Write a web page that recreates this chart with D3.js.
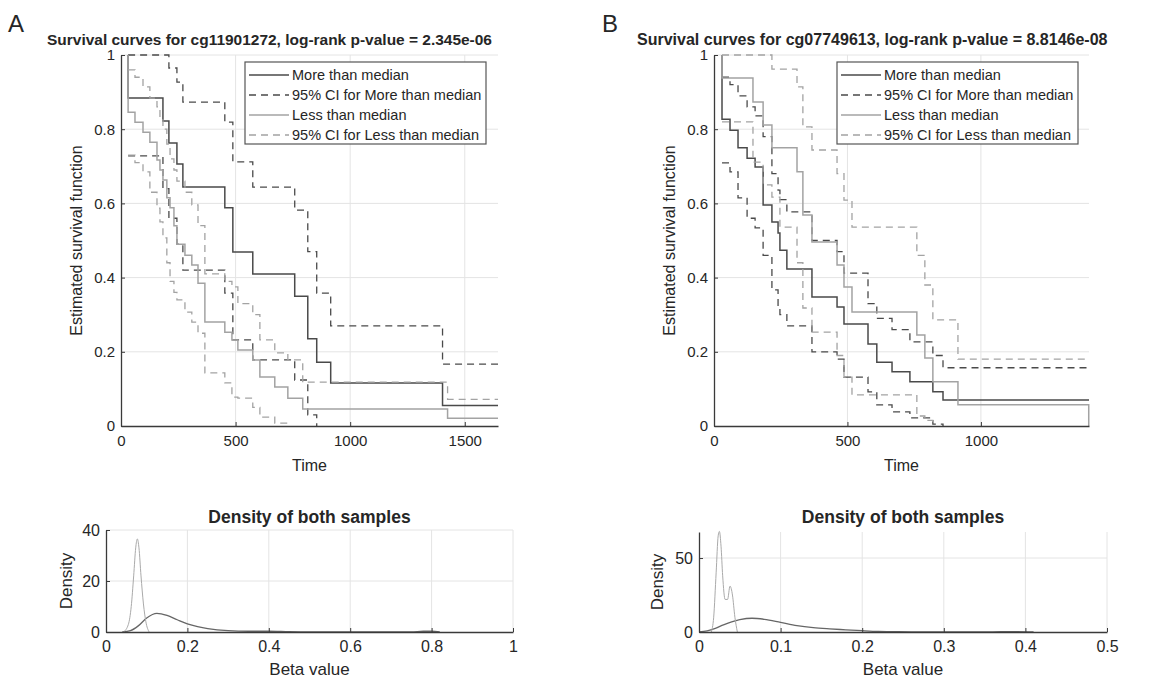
<!DOCTYPE html>
<html>
<head>
<meta charset="utf-8">
<script src="https://cdn.jsdelivr.net/npm/d3@7"></script>
<style>
  body { margin: 0; background: #fff; }
  text { font-family: "Liberation Sans", Arial, sans-serif; fill: #262626; }
</style>
</head>
<body>
<script>
// ---- panel A survival (time, survival) ----
const aMoreT = [31, 31, 183, 209, 244, 270, 453, 488, 575, 758, 815, 854, 915, 1403];
const aMoreS = [1, 0.884, 0.822, 0.763, 0.706, 0.644, 0.588, 0.469, 0.41, 0.35, 0.235, 0.172, 0.116, 0.055];
const aMoreHiT = [31, 209, 244, 270, 453, 488, 575, 758, 815, 854, 915, 1403];
const aMoreHiS = [1, 0.965, 0.927, 0.873, 0.819, 0.712, 0.644, 0.582, 0.47, 0.358, 0.27, 0.167];
const aMoreLoT = [31, 183, 209, 244, 270, 453, 488, 575, 758, 815, 854];
const aMoreLoS = [0.728, 0.64, 0.56, 0.49, 0.42, 0.358, 0.232, 0.178, 0.124, 0.03, 0];
const aLessT = [31, 31, 61, 96, 126, 157, 170, 183, 200, 214, 231, 244, 279, 309, 336, 366, 453, 484, 510, 575, 606, 671, 728, 793, 1425];
const aLessS = [1, 0.846, 0.819, 0.792, 0.765, 0.717, 0.69, 0.663, 0.615, 0.588, 0.54, 0.49, 0.46, 0.434, 0.385, 0.28, 0.253, 0.232, 0.205, 0.178, 0.132, 0.105, 0.075, 0.046, 0.021];
const aLessHiT = [31, 61, 96, 126, 157, 170, 183, 200, 214, 231, 244, 279, 309, 336, 366, 453, 484, 510, 575, 606, 671, 728, 793, 1425];
const aLessHiS = [0.96, 0.94, 0.914, 0.884, 0.86, 0.83, 0.8, 0.76, 0.72, 0.69, 0.66, 0.63, 0.596, 0.54, 0.41, 0.39, 0.375, 0.33, 0.3, 0.232, 0.197, 0.178, 0.118, 0.072];
const aLessLoT = [31, 61, 96, 126, 157, 170, 183, 200, 214, 231, 244, 279, 309, 336, 366, 453, 484, 510, 575, 606, 671, 728];
const aLessLoS = [0.73, 0.71, 0.685, 0.63, 0.587, 0.55, 0.507, 0.44, 0.39, 0.36, 0.34, 0.307, 0.28, 0.25, 0.143, 0.116, 0.078, 0.075, 0.05, 0.024, 0.008, 0];

// ---- panel B survival ----
const bMoreT = [30, 30, 60, 90, 124, 154, 184, 217, 240, 247, 273, 367, 461, 487, 577, 610, 667, 734, 820, 858];
const bMoreS = [1, 0.827, 0.797, 0.75, 0.722, 0.698, 0.596, 0.55, 0.52, 0.474, 0.423, 0.348, 0.321, 0.275, 0.221, 0.172, 0.146, 0.119, 0.092, 0.07];
const bMoreHiT = [30, 60, 90, 124, 154, 184, 217, 240, 247, 273, 367, 461, 487, 577, 610, 667, 734, 820, 858];
const bMoreHiS = [0.94, 0.92, 0.89, 0.86, 0.836, 0.78, 0.68, 0.636, 0.61, 0.577, 0.5, 0.47, 0.412, 0.33, 0.29, 0.26, 0.227, 0.19, 0.157];
const bMoreLoT = [30, 60, 90, 124, 154, 184, 217, 240, 247, 273, 367, 461, 487, 577, 610, 667, 734, 820, 858];
const bMoreLoS = [0.709, 0.685, 0.615, 0.56, 0.534, 0.46, 0.367, 0.32, 0.3, 0.27, 0.2, 0.18, 0.132, 0.092, 0.057, 0.038, 0.022, 0.005, 0];
const bLessT = [30, 30, 146, 184, 217, 311, 333, 367, 461, 487, 517, 760, 790, 820, 914, 1404];
const bLessS = [1, 0.938, 0.873, 0.811, 0.75, 0.685, 0.569, 0.496, 0.434, 0.375, 0.307, 0.245, 0.183, 0.119, 0.057, 0];
const bLessHiT = [30, 217, 311, 333, 367, 461, 487, 517, 760, 790, 820, 914];
const bLessHiS = [1, 0.962, 0.914, 0.806, 0.744, 0.68, 0.609, 0.536, 0.46, 0.38, 0.286, 0.18];
const bLessLoT = [30, 146, 184, 217, 247, 311, 333, 367, 461, 487, 517, 760, 790, 820];
const bLessLoS = [0.82, 0.711, 0.65, 0.617, 0.536, 0.44, 0.318, 0.253, 0.19, 0.132, 0.084, 0.027, 0.015, 0];

// ---- density curves (beta value, density) ----
const aDensLessX = [0.043, 0.055, 0.062, 0.068, 0.073, 0.077, 0.081, 0.086, 0.092, 0.098, 0.106];
const aDensLessY = [0, 3, 10, 22, 33, 36.5, 33, 22, 11, 4, 0];
const aDensMoreX = [0.04, 0.06, 0.08, 0.1, 0.125, 0.15, 0.175, 0.2, 0.225, 0.25, 0.3, 0.35, 0.4, 0.45, 0.5, 0.75, 0.78, 0.8, 0.82];
const aDensMoreY = [0, 0.5, 2.5, 5.5, 7.3, 6.5, 4.8, 3.2, 2.1, 1.3, 0.5, 0.3, 0.3, 0.1, 0, 0, 0.3, 0.3, 0];
const bDensLessX = [0.015, 0.018, 0.021, 0.0235, 0.025, 0.027, 0.029, 0.032, 0.035, 0.038, 0.041, 0.044, 0.047];
const bDensLessY = [0, 10, 40, 65, 68, 58, 38, 22, 22, 31, 25, 10, 0];
const bDensMoreX = [0, 0.01, 0.02, 0.03, 0.04, 0.05, 0.065, 0.08, 0.1, 0.12, 0.14, 0.16, 0.18, 0.2, 0.22, 0.24, 0.26, 0.3, 0.35, 0.37, 0.39, 0.41];
const bDensMoreY = [0, 0.8, 2.5, 4.8, 6.8, 8.3, 9.3, 8.6, 6.5, 4.3, 2.9, 2.1, 1.5, 0.9, 0.4, 0.2, 0.05, 0, 0, 0.3, 0.3, 0];

const legendLabels = ['More than median', '95% CI for More than median', 'Less than median', '95% CI for Less than median'];

const width = 1176;
const height = 681;
const darkCol = '#4a4a4a';
const lightCol = '#a3a3a3';
const gridCol = '#e4e4e4';
const axisCol = '#3a3a3a';

const svg = d3.select('body').append('svg')
  .attr('width', width)
  .attr('height', height);

// fits a bold title into the width it takes in the reference
function fittedTitle(txt, x0, y0, w) {
  const t = svg.append('text')
    .attr('x', x0).attr('y', y0)
    .style('font-weight', 'bold')
    .style('font-size', '15px')
    .text(txt);
  const len = t.node().getComputedTextLength();
  t.style('font-size', (15 * w / len).toFixed(2) + 'px');
}

// grid lines behind the data
function drawGrid(g, x, y, xTicks, yTicks) {
  g.append('g').selectAll('line').data(xTicks.filter(d => d > 0)).enter()
    .append('line')
    .attr('x1', d => x(d)).attr('x2', d => x(d))
    .attr('y1', y.range()[0]).attr('y2', y.range()[1])
    .attr('stroke', gridCol).attr('stroke-width', 1);
  g.append('g').selectAll('line').data(yTicks.filter(d => d > 0)).enter()
    .append('line')
    .attr('x1', x.range()[0]).attr('x2', x.range()[1])
    .attr('y1', d => y(d)).attr('y2', d => y(d))
    .attr('stroke', gridCol).attr('stroke-width', 1);
}

function finishAxes(g, x, y, xTicks, yTicks, fs) {
  const fmt = d3.format('~g');
  const ax = g.append('g')
    .attr('transform', `translate(0,${y.range()[0]})`)
    .call(d3.axisBottom(x).tickValues(xTicks).tickFormat(fmt).tickSizeInner(-4).tickSizeOuter(0).tickPadding(9));
  const ay = g.append('g')
    .attr('transform', `translate(${x.range()[0]},0)`)
    .call(d3.axisLeft(y).tickValues(yTicks).tickFormat(fmt).tickSizeInner(-4).tickSizeOuter(0).tickPadding(6));
  [ax, ay].forEach(a => {
    a.select('.domain').attr('stroke', axisCol).attr('stroke-width', 1.3);
    a.selectAll('.tick line').attr('stroke', axisCol);
    a.selectAll('.tick text').style('font-size', fs + 'px').attr('fill', '#262626')
      .style('font-family', '"Liberation Sans", Arial, sans-serif');
  });
}

function survivalPanel(p) {
  const g = svg.append('g');
  const x = d3.scaleLinear().domain([0, p.xMax]).range([p.left, p.right]);
  const y = d3.scaleLinear().domain([0, 1]).range([p.bottom, p.top]);
  const yTicks = [0, 0.2, 0.4, 0.6, 0.8, 1];

  drawGrid(g, x, y, p.xTicks, yTicks);

  const line = d3.line()
    .x(d => x(d[0]))
    .y(d => y(d[1]))
    .curve(d3.curveStepAfter);

  p.series.forEach(s => {
    const pts = s.t.map((t, i) => [t, s.v[i]]);
    const last = pts[pts.length - 1];
    if (last[1] > 0 && last[0] < p.xMax) pts.push([p.xMax, last[1]]);
    g.append('path')
      .attr('d', line(pts))
      .attr('fill', 'none')
      .attr('stroke', s.color)
      .attr('stroke-width', s.dash ? 1.3 : 1.5)
      .attr('stroke-dasharray', s.dash ? '7,5' : null);
  });

  finishAxes(g, x, y, p.xTicks, yTicks, 15);

  // axis labels
  g.append('text')
    .attr('x', (p.left + p.right) / 2).attr('y', 471)
    .attr('text-anchor', 'middle').style('font-size', '16px')
    .text('Time');
  g.append('text')
    .attr('transform', `translate(${p.ylabX},${(p.top + p.bottom) / 2}) rotate(-90)`)
    .attr('text-anchor', 'middle').style('font-size', '16px')
    .text('Estimated survival function');

  // legend
  const lg = g.append('g').attr('transform', `translate(${p.legX},62)`);
  lg.append('rect')
    .attr('width', 241).attr('height', 82)
    .attr('fill', '#fff').attr('stroke', '#555').attr('stroke-width', 1.2);
  const legStyle = [
    { color: darkCol, dash: false },
    { color: darkCol, dash: true },
    { color: lightCol, dash: false },
    { color: lightCol, dash: true }
  ];
  legendLabels.forEach((lab, i) => {
    const ly = 13 + i * 20;
    lg.append('line')
      .attr('x1', 4).attr('x2', 44).attr('y1', ly).attr('y2', ly)
      .attr('stroke', legStyle[i].color)
      .attr('stroke-width', legStyle[i].dash ? 1.3 : 1.5)
      .attr('stroke-dasharray', legStyle[i].dash ? '7,5' : null);
    lg.append('text')
      .attr('x', 47).attr('y', ly).attr('dy', '0.35em')
      .style('font-size', '14.5px')
      .text(lab);
  });
}

function densityPanel(p) {
  const g = svg.append('g');
  const x = d3.scaleLinear().domain([0, p.xMax]).range([p.left, p.right]);
  const y = d3.scaleLinear().domain([0, p.yMax]).range([p.bottom, p.top]);

  drawGrid(g, x, y, p.xTicks, p.yTicks);

  const line = d3.line()
    .x(d => x(d[0]))
    .y(d => y(d[1]))
    .curve(d3.curveMonotoneX);

  p.series.forEach(s => {
    g.append('path')
      .attr('d', line(s.x.map((v, i) => [v, s.y[i]])))
      .attr('fill', 'none')
      .attr('stroke', s.color)
      .attr('stroke-width', s.w);
  });

  finishAxes(g, x, y, p.xTicks, p.yTicks, 16);

  g.append('text')
    .attr('x', (p.left + p.right) / 2).attr('y', 523)
    .attr('text-anchor', 'middle')
    .style('font-size', '17.5px').style('font-weight', 'bold')
    .text('Density of both samples');
  g.append('text')
    .attr('x', (p.left + p.right) / 2).attr('y', 675)
    .attr('text-anchor', 'middle').style('font-size', '17px')
    .text('Beta value');
  g.append('text')
    .attr('transform', `translate(${p.ylabX},${(p.top + p.bottom) / 2}) rotate(-90)`)
    .attr('text-anchor', 'middle').style('font-size', '17px')
    .text('Density');
}

// panel letters
svg.append('text').attr('x', 8).attr('y', 32).style('font-size', '24px').text('A');
svg.append('text').attr('x', 602).attr('y', 32).style('font-size', '24px').text('B');

fittedTitle('Survival curves for cg11901272, log-rank p-value = 2.345e-06', 47, 45, 445);
fittedTitle('Survival curves for cg07749613, log-rank p-value = 8.8146e-08', 637, 45, 471);

survivalPanel({
  left: 121, right: 498, top: 55, bottom: 426, xMax: 1645,
  xTicks: [0, 500, 1000, 1500], ylabX: 82, legX: 245,
  series: [
    { t: aMoreT, v: aMoreS, color: darkCol, dash: false },
    { t: aMoreHiT, v: aMoreHiS, color: darkCol, dash: true },
    { t: aMoreLoT, v: aMoreLoS, color: darkCol, dash: true },
    { t: aLessT, v: aLessS, color: lightCol, dash: false },
    { t: aLessHiT, v: aLessHiS, color: lightCol, dash: true },
    { t: aLessLoT, v: aLessLoS, color: lightCol, dash: true }
  ]
});

survivalPanel({
  left: 714, right: 1089, top: 55, bottom: 426, xMax: 1405,
  xTicks: [0, 500, 1000], ylabX: 675, legX: 837,
  series: [
    { t: bMoreT, v: bMoreS, color: darkCol, dash: false },
    { t: bMoreHiT, v: bMoreHiS, color: darkCol, dash: true },
    { t: bMoreLoT, v: bMoreLoS, color: darkCol, dash: true },
    { t: bLessT, v: bLessS, color: lightCol, dash: false },
    { t: bLessHiT, v: bLessHiS, color: lightCol, dash: true },
    { t: bLessLoT, v: bLessLoS, color: lightCol, dash: true }
  ]
});

densityPanel({
  left: 106, right: 513, top: 530, bottom: 632, xMax: 1, yMax: 40,
  xTicks: [0, 0.2, 0.4, 0.6, 0.8, 1], yTicks: [0, 20, 40], ylabX: 72,
  series: [
    { x: aDensMoreX, y: aDensMoreY, color: '#666', w: 1.3 },
    { x: aDensLessX, y: aDensLessY, color: '#aaa', w: 1 }
  ]
});

densityPanel({
  left: 699, right: 1107, top: 532, bottom: 632, xMax: 0.5, yMax: 67.6,
  xTicks: [0, 0.1, 0.2, 0.3, 0.4, 0.5], yTicks: [0, 50], ylabX: 663,
  series: [
    { x: bDensMoreX, y: bDensMoreY, color: '#666', w: 1.3 },
    { x: bDensLessX, y: bDensLessY, color: '#aaa', w: 1 }
  ]
});
</script>
</body>
</html>
